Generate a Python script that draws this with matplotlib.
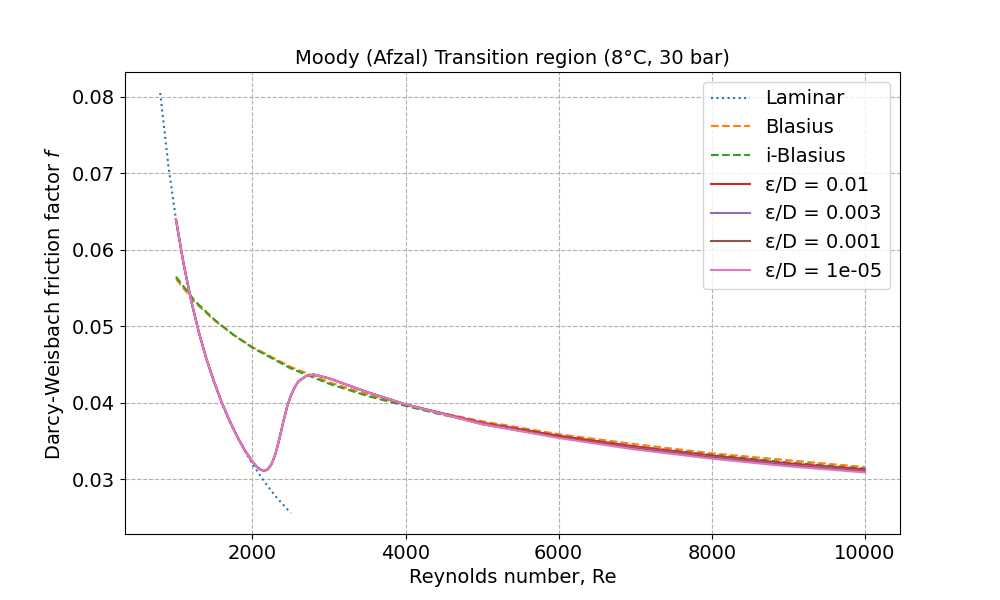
import matplotlib
matplotlib.use("Agg")
import matplotlib.pyplot as plt

lam_re = [795, 900, 1000, 1100, 1200, 1300, 1400, 1500, 1600, 1700, 1800, 1900, 2000, 2100, 2200, 2300, 2400, 2500]
lam_f = [0.0805, 0.0711, 0.0640, 0.0582, 0.0533, 0.0492, 0.0457, 0.0427, 0.0400, 0.0376, 0.0356, 0.0337, 0.0320, 0.0305, 0.0291, 0.0278, 0.0267, 0.0256]

bl_re = [1000, 1250, 1500, 1750, 2000, 2500, 3000, 3500, 4000, 4500, 5000, 6000, 7000, 8000, 9000, 10000]
bl_f = [0.0562, 0.0531, 0.0508, 0.0489, 0.0473, 0.0447, 0.0427, 0.0411, 0.0397, 0.0386, 0.0376, 0.0359, 0.0346, 0.0334, 0.0325, 0.0316]
ibl_f = [0.0565, 0.0533, 0.0509, 0.0489, 0.0472, 0.0445, 0.0425, 0.0409, 0.0396, 0.0384, 0.0374, 0.0357, 0.0343, 0.0332, 0.0322, 0.0314]

tr_re = [1000, 1100, 1200, 1300, 1400, 1500, 1600, 1700, 1800, 1900, 2000, 2050, 2100, 2150, 2200, 2250, 2300, 2350, 2400, 2450, 2500, 2550, 2600, 2700, 2800, 3000, 3500, 4000,
         5000, 6000, 7000, 8000, 9000, 10000]
tr_head = [0.0640, 0.0582, 0.0533, 0.0492, 0.0457, 0.0427, 0.0400, 0.0377, 0.0356, 0.0338, 0.0323, 0.0317, 0.0313, 0.0311, 0.0313, 0.0320, 0.0333, 0.0352, 0.0374, 0.0394, 0.0409, 0.0420, 0.0428, 0.0435, 0.0437, 0.0432, 0.0414, 0.0398]
tails = {
    "ε/D = 0.01": [0.0374, 0.0357, 0.0343, 0.0331, 0.0321, 0.0313],
    "ε/D = 0.003": [0.0373, 0.0355, 0.0341, 0.0329, 0.0319, 0.0311],
    "ε/D = 0.001": [0.0372, 0.0355, 0.0340, 0.0328, 0.0318, 0.0310],
    "ε/D = 1e-05": [0.0372, 0.0354, 0.0339, 0.0327, 0.0317, 0.0309],
}
colors = ["#d62728", "#9467bd", "#8c564b", "#e377c2"]

plt.rcParams['font.size'] = 14
fig, ax = plt.subplots(figsize=(10, 6), dpi=100)
ax.plot(lam_re, lam_f, ':', color="#1f77b4", label="Laminar")
ax.plot(bl_re, bl_f, '--', color="#ff7f0e", label="Blasius")
ax.plot(bl_re, ibl_f, '--', color="#2ca02c", label="i-Blasius")
for (lab, tail), c in zip(tails.items(), colors):
    ax.plot(tr_re, tr_head + tail, '-', color=c, label=lab)
ax.grid(True, linestyle='--')
ax.set_title("Moody (Afzal) Transition region (8°C, 30 bar)", fontsize=14)
ax.set_xlabel("Reynolds number, Re")
ax.set_ylabel("Darcy-Weisbach friction factor $f$")
ax.legend(loc="upper right")
fig.savefig("out.png")
